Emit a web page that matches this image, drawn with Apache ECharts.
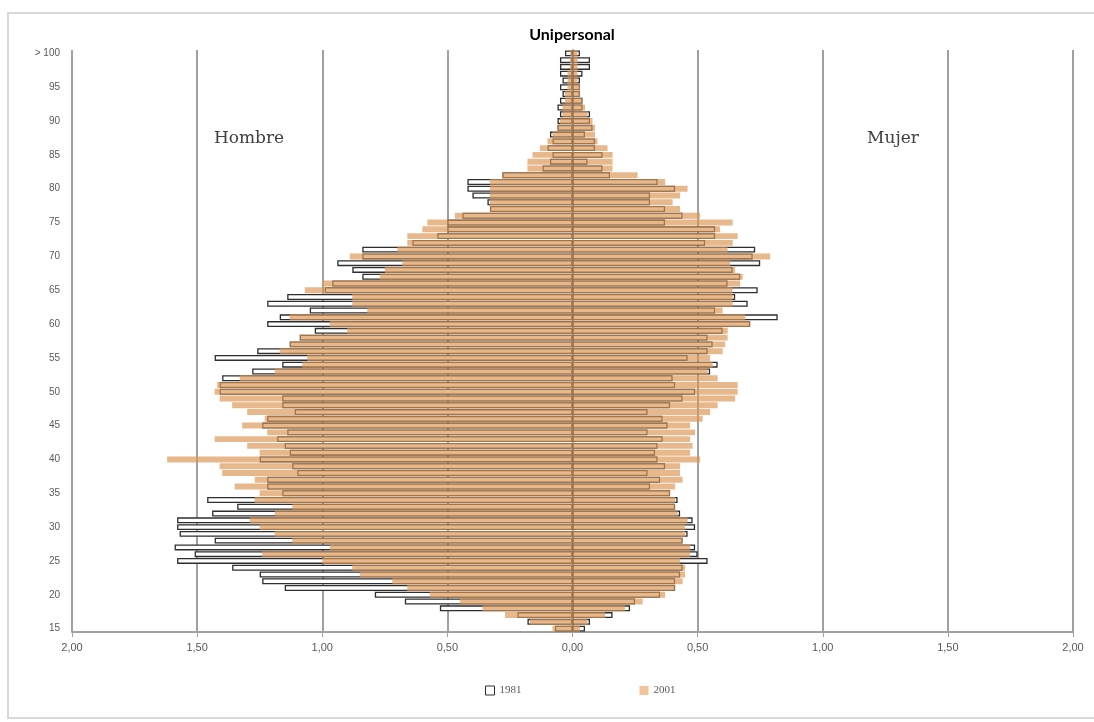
<!DOCTYPE html>
<html>
<head>
<meta charset="utf-8">
<title>Unipersonal</title>
<script src="https://cdn.jsdelivr.net/npm/echarts@6/dist/echarts.min.js"></script>
<style>
    html, body { margin: 0; padding: 0; background: #fff; }
    #pyramidChart { width: 1094px; height: 722px; }
</style>
</head>
<body>
<div id="pyramidChart"></div>
<script>
// edades 15 .. >100
const ages = ['15','16','17','18','19','20','21','22','23','24','25','26','27','28','29','30',
    '31','32','33','34','35','36','37','38','39','40','41','42','43','44','45','46','47','48','49','50',
    '51','52','53','54','55','56','57','58','59','60','61','62','63','64','65','66','67','68','69','70',
    '71','72','73','74','75','76','77','78','79','80','81','82','83','84','85','86','87','88','89','90',
    '91','92','93','94','95','96','97','98','99','> 100'];

// hombres (se dibujan a la izquierda)
const hombre1981 = [0.07,0.18,0.22,0.53,0.67,0.79,1.15,1.24,1.25,1.36,1.58,1.51,1.59,1.43,1.57,1.58,
    1.58,1.44,1.34,1.46,1.16,1.22,1.22,1.10,1.12,1.25,1.13,1.15,1.18,1.14,1.24,1.22,1.11,1.16,1.16,1.41,
    1.41,1.40,1.28,1.16,1.43,1.26,1.13,1.09,1.03,1.22,1.17,1.05,1.22,1.14,0.99,0.96,0.84,0.88,0.94,0.84,
    0.84,0.64,0.54,0.50,0.50,0.44,0.33,0.34,0.40,0.42,0.42,0.28,0.12,0.09,0.08,0.10,0.08,0.09,0.06,0.06,
    0.05,0.06,0.05,0.04,0.05,0.04,0.05,0.05,0.05,0.03];
const hombre2001 = [0.08,0.17,0.27,0.36,0.45,0.57,0.66,0.72,0.85,0.88,1.00,1.24,0.97,1.12,1.19,1.25,
    1.29,1.19,1.12,1.27,1.25,1.35,1.27,1.40,1.41,1.62,1.25,1.30,1.43,1.22,1.32,1.23,1.30,1.36,1.41,1.43,
    1.42,1.33,1.19,1.08,1.06,1.17,1.13,1.09,0.90,0.97,1.13,0.82,0.88,0.88,1.07,1.00,0.77,0.75,0.68,0.89,
    0.70,0.66,0.66,0.60,0.58,0.47,0.33,0.33,0.33,0.33,0.33,0.28,0.18,0.18,0.16,0.13,0.10,0.08,0.06,0.05,
    0.04,0.04,0.03,0.03,0.02,0.02,0.02,0.01,0.01,0.01];

// mujeres (derecha)
const mujer1981 = [0.05,0.07,0.16,0.23,0.25,0.35,0.41,0.41,0.43,0.44,0.54,0.50,0.49,0.44,0.46,0.49,
    0.48,0.43,0.41,0.42,0.39,0.31,0.35,0.30,0.37,0.34,0.33,0.34,0.36,0.30,0.38,0.36,0.30,0.39,0.44,0.49,
    0.41,0.40,0.55,0.58,0.46,0.54,0.56,0.54,0.60,0.71,0.82,0.57,0.70,0.65,0.74,0.62,0.67,0.64,0.75,0.72,
    0.73,0.53,0.57,0.57,0.37,0.44,0.37,0.31,0.31,0.41,0.34,0.15,0.12,0.06,0.12,0.09,0.09,0.05,0.08,0.07,
    0.07,0.04,0.04,0.03,0.03,0.03,0.04,0.07,0.07,0.03];
const mujer2001 = [0.03,0.06,0.13,0.21,0.28,0.37,0.41,0.44,0.45,0.45,0.43,0.47,0.47,0.44,0.45,0.45,
    0.46,0.42,0.41,0.41,0.39,0.41,0.44,0.43,0.43,0.51,0.47,0.48,0.47,0.49,0.47,0.52,0.55,0.58,0.65,0.66,
    0.66,0.58,0.54,0.56,0.55,0.60,0.61,0.62,0.62,0.71,0.69,0.60,0.64,0.64,0.64,0.67,0.68,0.65,0.63,0.79,
    0.62,0.64,0.66,0.59,0.64,0.51,0.43,0.40,0.43,0.46,0.37,0.26,0.16,0.16,0.16,0.14,0.10,0.09,0.09,0.08,
    0.06,0.05,0.04,0.03,0.03,0.02,0.02,0.02,0.02,0.02];

const c_text = '#595959';
const c_grid = '#a0a0a0';
const c_tan = '#dc9656';
const c_line = '#2e2e2e';

let Pyramid = {
    init() {
        this.chart = echarts.init(document.getElementById('pyramidChart'));
        this.draw();
    },
    draw() {
        // 1981: barra blanca con borde oscuro, 2001 encima semitransparente
        let seri_1981 = {
            type: 'bar',
            name: '1981',
            stack: 's1981',
            barGap: '-100%',
            barCategoryGap: '12%',
            itemStyle: { color: '#ffffff', borderColor: c_line, borderWidth: 1.3 }
        };
        let seri_2001 = {
            type: 'bar',
            name: '2001',
            stack: 's2001',
            barGap: '-100%',
            barCategoryGap: '12%',
            itemStyle: { color: c_tan, opacity: 0.68 }
        };
        this.chart.setOption({
            animation: false,
            grid: { left: 72, right: 21, top: 50, bottom: 90 },
            legend: {
                left: 480,
                top: 680,
                itemGap: 118,
                itemWidth: 9,
                itemHeight: 9,
                textStyle: { fontSize: 11, color: c_text, fontFamily: 'Liberation Serif' },
                data: [
                    { name: '1981', icon: 'rect', itemStyle: { color: '#fff', borderColor: c_line, borderWidth: 1 } },
                    { name: '2001', icon: 'rect', itemStyle: { color: '#f0c49c', opacity: 1 } }
                ]
            },
            xAxis: {
                type: 'value',
                min: -2,
                max: 2,
                interval: 0.5,
                axisLine: { show: true, lineStyle: { color: c_grid, width: 2 } },
                axisTick: { show: true, length: 5, lineStyle: { color: c_grid } },
                axisLabel: {
                    color: c_text,
                    fontSize: 11,
                    margin: 10,
                    formatter: v => Math.abs(v).toFixed(2).replace('.', ',')
                },
                splitLine: { show: true, lineStyle: { color: c_grid, width: 2 } }
            },
            yAxis: {
                type: 'category',
                data: ages,
                axisLine: { show: true, lineStyle: { color: c_grid, width: 2 } },
                axisTick: { show: false },
                axisLabel: { interval: 4, color: c_text, fontSize: 10, margin: 12 }
            },
            graphic: [
                { type: 'rect', shape: { x: 8, y: 13, width: 1100, height: 705 }, style: { fill: 'none', stroke: '#d9d9d9', lineWidth: 2 }, z: -10 },
                { type: 'text', x: 572, y: 35, style: { text: 'Unipersonal', font: 'bold 16px Lato', fill: '#000', textAlign: 'center', textVerticalAlign: 'middle' } },
                { type: 'text', x: 249, y: 139, style: { text: 'Hombre', font: '17px "DejaVu Serif"', fill: '#404040', textAlign: 'center', textVerticalAlign: 'middle' } },
                { type: 'text', x: 893, y: 139, style: { text: 'Mujer', font: '17px "DejaVu Serif"', fill: '#404040', textAlign: 'center', textVerticalAlign: 'middle' } }
            ],
            series: [
                $extend(seri_1981, { data: hombre1981.map(v => -v) }),
                $extend(seri_1981, { data: mujer1981 }),
                $extend(seri_2001, { data: hombre2001.map(v => -v) }),
                $extend(seri_2001, { data: mujer2001 })
            ]
        });
    }
};

function $extend(base, extra) {
    return Object.assign(JSON.parse(JSON.stringify(base)), extra);
}

Pyramid.init();
</script>
</body>
</html>
